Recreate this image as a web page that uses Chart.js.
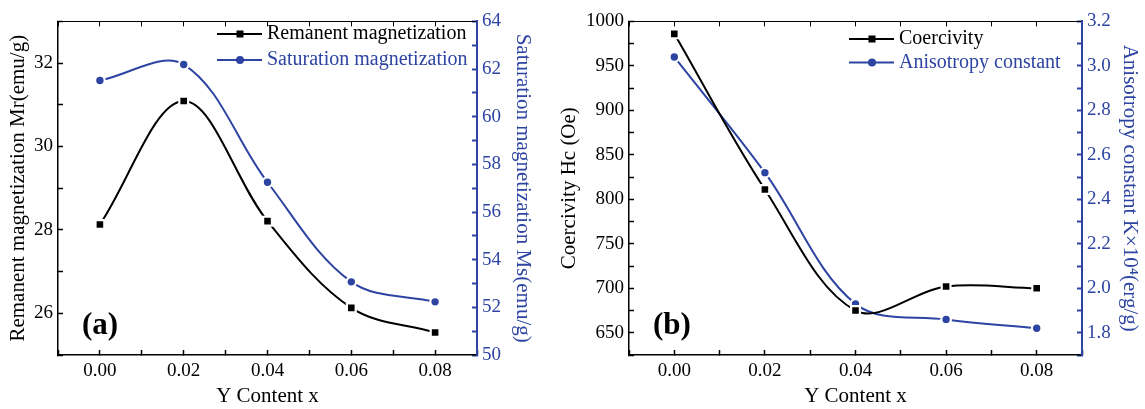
<!DOCTYPE html>
<html>
<head>
<meta charset="utf-8">
<script src="https://cdn.jsdelivr.net/npm/chart.js@4"></script>
<style>
  body { margin: 0; background: #fff; }
  canvas { position: absolute; top: 0; }
  #chartA { left: 0; }
  #chartB { left: 552px; }
</style>
</head>
<body>
<canvas id="chartA" width="552" height="409"></canvas>
<canvas id="chartB" width="593" height="409"></canvas>
<script>
// data
const yContent = [0.00, 0.02, 0.04, 0.06, 0.08];
const remanent = [28.13, 31.09, 28.21, 26.13, 25.54];
const saturation = [61.52, 62.19, 57.25, 53.07, 52.23];
const coercivity = [986, 811, 675, 702, 700];
const anisotropy = [3.04, 2.52, 1.93, 1.86, 1.82];

// labelled (major) ticks, the rest are minor
const xTicks = [0.00, 0.02, 0.04, 0.06, 0.08];
const mrTicks = [26, 28, 30, 32];
const msTicks = [50, 52, 54, 56, 58, 60, 62, 64];
const hcTicks = [650, 700, 750, 800, 850, 900, 950, 1000];
const kTicks = [1.8, 2.0, 2.2, 2.4, 2.6, 2.8, 3.0, 3.2];

const BLUE = '#2D44A2';
Chart.defaults.font.family = "'Liberation Serif', 'Times New Roman', serif";
Chart.defaults.color = '#000';

function pts(ys) {
  return yContent.map((x, i) => ({ x: x, y: ys[i] }));
}

function isMajor(list, v) {
  return list.some(m => Math.abs(m - v) < 1e-6);
}

function fmt(v, digits) {
  if (Math.abs(v) < 1e-9) v = 0;
  return v.toFixed(digits);
}

function yAxis(position, min, max, step, majors, digits, color, title, titlePad, width, bw) {
  return {
    type: 'linear', position: position, min: min, max: max,
    afterFit: s => { s.width = width; },
    border: { color: color, width: bw },
    grid: { drawOnChartArea: false, tickLength: -5, color: color, tickWidth: bw },
    ticks: {
      stepSize: step, autoSkip: false, padding: 10, color: color, font: { size: 19 },
      callback: v => isMajor(majors, v) ? fmt(v, digits) : ''
    },
    title: { display: true, text: title, color: color, font: { size: 21 }, padding: { top: titlePad, bottom: 0 } }
  };
}

function xAxis() {
  return {
    type: 'linear', position: 'bottom', min: -0.01, max: 0.09,
    afterFit: s => { s.height = 54; },
    border: { color: '#000', width: 1.5 },
    grid: { drawOnChartArea: false, tickLength: -5, color: '#000', tickWidth: 1.5 },
    ticks: {
      stepSize: 0.01, autoSkip: false, maxRotation: 0, padding: 10, font: { size: 19 },
      callback: v => isMajor(xTicks, v) ? fmt(v, 2) : ''
    },
    title: { display: true, text: 'Y Content x', font: { size: 21 }, padding: { top: 0, bottom: 0 } }
  };
}

function topAxis() {
  return {
    type: 'linear', position: 'top', min: -0.01, max: 0.09,
    afterFit: s => { s.height = 0; },
    border: { color: '#000', width: 1 },
    grid: { drawOnChartArea: false, tickLength: -5, color: '#000', tickWidth: 1 },
    ticks: { display: false, stepSize: 0.01, autoSkip: false }
  };
}

function series(label, ys, axisId, color, style) {
  const rect = style === 'rect';
  return {
    label: label, data: pts(ys), yAxisID: axisId,
    borderColor: color, backgroundColor: color, borderWidth: 2, tension: 0.35,
    pointStyle: style, pointRadius: rect ? 6.2 : 4.8,
    pointBackgroundColor: color, pointBorderColor: '#fff', pointBorderWidth: 2.2
  };
}

const insideLegend = {
  id: 'insideLegend',
  afterDraw(chart, args, opts) {
    const ctx = chart.ctx;
    const area = chart.chartArea;
    ctx.save();
    ctx.font = "20px 'Liberation Serif'";
    ctx.textBaseline = 'middle';
    chart.data.datasets.forEach((ds, i) => {
      const y = opts.y + i * opts.gap;
      ctx.strokeStyle = ds.borderColor;
      ctx.lineWidth = 2;
      ctx.beginPath();
      ctx.moveTo(opts.x, y);
      ctx.lineTo(opts.x + 45, y);
      ctx.stroke();
      ctx.fillStyle = ds.borderColor;
      const cx = opts.x + 23;
      if (ds.pointStyle === 'rect') {
        ctx.fillRect(cx - 3.5, y - 3.5, 7, 7);
      } else {
        ctx.beginPath();
        ctx.arc(cx, y, 4, 0, Math.PI * 2);
        ctx.fill();
      }
      ctx.fillText(ds.label, opts.x + 50, y);
    });
    ctx.font = "bold 31px 'Liberation Serif'";
    ctx.fillStyle = '#000';
    ctx.fillText(opts.panel, area.left + 24, area.bottom - 29);
    ctx.restore();
  }
};

new Chart(document.getElementById('chartA'), {
  type: 'line',
  data: {
    datasets: [
      series('Remanent magnetization', remanent, 'y', '#000', 'rect'),
      series('Saturation magnetization', saturation, 'y2', BLUE, 'circle')
    ]
  },
  options: {
    responsive: false, animation: false, devicePixelRatio: 1, events: [],
    layout: { padding: { top: 17, left: 0, right: 0, bottom: 0 } },
    scales: {
      x: xAxis(),
      x2: topAxis(),
      y: yAxis('left', 25, 33, 1, mrTicks, 0, '#000', 'Remanent magnetization Mr(emu/g)', 6, 58, 1.5),
      y2: yAxis('right', 50, 64, 1, msTicks, 0, BLUE, 'Saturation magnetization Ms(emu/g)', 17, 75, 2)
    },
    plugins: {
      legend: { display: false },
      tooltip: { enabled: false },
      insideLegend: { x: 217, y: 34, gap: 26, panel: '(a)' }
    }
  },
  plugins: [insideLegend]
});

new Chart(document.getElementById('chartB'), {
  type: 'line',
  data: {
    datasets: [
      series('Coercivity', coercivity, 'y', '#000', 'rect'),
      series('Anisotropy constant', anisotropy, 'y2', BLUE, 'circle')
    ]
  },
  options: {
    responsive: false, animation: false, devicePixelRatio: 1, events: [],
    layout: { padding: { top: 17, left: 0, right: 0, bottom: 0 } },
    scales: {
      x: xAxis(),
      x2: topAxis(),
      y: yAxis('left', 625, 1000, 25, hcTicks, 0, '#000', 'Coercivity Hc (Oe)', 4.5, 77, 1.5),
      y2: yAxis('right', 1.7, 3.2, 0.1, kTicks, 1, BLUE, 'Anisotropy constant K\u00d710\u2074(erg/g)', 2.5, 63, 2)
    },
    plugins: {
      legend: { display: false },
      tooltip: { enabled: false },
      insideLegend: { x: 297, y: 39, gap: 23.5, panel: '(b)' }
    }
  },
  plugins: [insideLegend]
});
</script>
</body>
</html>
